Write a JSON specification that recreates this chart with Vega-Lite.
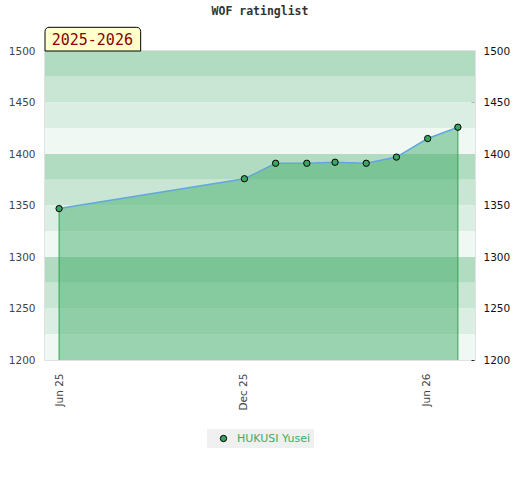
{
  "$schema": "https://vega.github.io/schema/vega-lite/v6.json",
  "autosize": "none",
  "width": 430,
  "height": 309,
  "padding": {"left": 45, "top": 51, "right": 45, "bottom": 120},
  "background": "white",
  "title": {
    "text": "WOF ratinglist",
    "font": "DejaVu Sans Mono",
    "fontSize": 11.5,
    "fontWeight": "bold",
    "color": "#333333",
    "anchor": "middle",
    "offset": 9
  },
  "datasets": {
    "ratings": [
      {"date": "2025/06/01", "rating": 1347, "player": "HUKUSI Yusei"},
      {"date": "2025/12/02", "rating": 1376, "player": "HUKUSI Yusei"},
      {"date": "2026/01/02", "rating": 1391, "player": "HUKUSI Yusei"},
      {"date": "2026/02/02", "rating": 1391, "player": "HUKUSI Yusei"},
      {"date": "2026/03/02", "rating": 1392, "player": "HUKUSI Yusei"},
      {"date": "2026/04/02", "rating": 1391, "player": "HUKUSI Yusei"},
      {"date": "2026/05/02", "rating": 1397, "player": "HUKUSI Yusei"},
      {"date": "2026/06/02", "rating": 1415, "player": "HUKUSI Yusei"},
      {"date": "2026/07/02", "rating": 1426, "player": "HUKUSI Yusei"}
    ],
    "bands": [
      {"lo": 1475, "hi": 1500, "shade": "a"},
      {"lo": 1450, "hi": 1475, "shade": "b"},
      {"lo": 1425, "hi": 1450, "shade": "c"},
      {"lo": 1400, "hi": 1425, "shade": "d"},
      {"lo": 1375, "hi": 1400, "shade": "a"},
      {"lo": 1350, "hi": 1375, "shade": "b"},
      {"lo": 1325, "hi": 1350, "shade": "c"},
      {"lo": 1300, "hi": 1325, "shade": "d"},
      {"lo": 1275, "hi": 1300, "shade": "a"},
      {"lo": 1250, "hi": 1275, "shade": "b"},
      {"lo": 1225, "hi": 1250, "shade": "c"},
      {"lo": 1200, "hi": 1225, "shade": "d"}
    ],
    "season": [{"season": "2025-2026"}]
  },
  "data": {"name": "ratings", "format": {"parse": {"date": "date"}}},
  "layer": [
    {
      "data": {"name": "bands"},
      "mark": {"type": "rect"},
      "encoding": {
        "y": {
          "field": "hi",
          "type": "quantitative",
          "scale": {"domain": [1200, 1500], "nice": false, "zero": false},
          "axis": {
            "orient": "left",
            "values": [1200, 1250, 1300, 1350, 1400, 1450, 1500],
            "format": "d",
            "ticks": false,
            "tickSize": 0,
            "domain": false,
            "grid": false,
            "title": null,
            "labelPadding": 10,
            "labelColor": "#444444"
          }
        },
        "y2": {"field": "lo"},
        "fill": {
          "field": "shade",
          "type": "nominal",
          "scale": {"domain": ["a", "b", "c", "d"], "range": ["#b2dcc2", "#c8e6d3", "#dbeee3", "#eff8f2"]},
          "legend": null
        }
      }
    },
    {
      "mark": {"type": "area", "fill": "#3caa63", "fillOpacity": 0.47},
      "encoding": {
        "x": {
          "field": "date",
          "type": "temporal",
          "scale": {"domain": [{"year": 2025, "month": 5, "date": 18}, {"year": 2026, "month": 7, "date": 19}]},
          "axis": {
            "values": [{"year": 2025, "month": 6, "date": 1}, {"year": 2025, "month": 12, "date": 1}, {"year": 2026, "month": 6, "date": 1}],
            "format": "%b %y",
            "labelAngle": 270,
            "ticks": false,
            "tickSize": 0,
            "domain": false,
            "grid": false,
            "title": null,
            "labelPadding": 13,
            "labelColor": "#444444"
          }
        },
        "y": {
          "field": "rating",
          "type": "quantitative",
          "scale": {"domain": [1200, 1500], "nice": false, "zero": false},
          "axis": {
            "orient": "right",
            "values": [1200, 1250, 1300, 1350, 1400, 1450, 1500],
            "format": "d",
            "ticks": false,
            "tickSize": 0,
            "domain": false,
            "grid": false,
            "title": null,
            "labelPadding": 8,
            "labelColor": "#111111"
          }
        },
        "y2": {"datum": 1200}
      }
    },
    {
      "transform": [
        {"joinaggregate": [{"op": "min", "field": "date", "as": "first"}, {"op": "max", "field": "date", "as": "last"}]},
        {"filter": "time(datum.date) == time(datum.first) || time(datum.date) == time(datum.last)"}
      ],
      "mark": {"type": "rule", "color": "#2ea44f", "strokeWidth": 1},
      "encoding": {
        "x": {"field": "date", "type": "temporal", "scale": {"domain": [{"year": 2025, "month": 5, "date": 18}, {"year": 2026, "month": 7, "date": 19}]}, "axis": null},
        "y": {"field": "rating", "type": "quantitative", "scale": {"domain": [1200, 1500], "nice": false, "zero": false}, "axis": null},
        "y2": {"datum": 1200}
      }
    },
    {
      "mark": {"type": "line", "color": "#62a6de", "strokeWidth": 1.5},
      "encoding": {
        "x": {"field": "date", "type": "temporal", "scale": {"domain": [{"year": 2025, "month": 5, "date": 18}, {"year": 2026, "month": 7, "date": 19}]}, "axis": null},
        "y": {"field": "rating", "type": "quantitative", "scale": {"domain": [1200, 1500], "nice": false, "zero": false}, "axis": null}
      }
    },
    {
      "mark": {"type": "point", "filled": true, "shape": "circle", "size": 40, "stroke": "#000000", "strokeWidth": 1, "opacity": 1},
      "encoding": {
        "x": {"field": "date", "type": "temporal", "scale": {"domain": [{"year": 2025, "month": 5, "date": 18}, {"year": 2026, "month": 7, "date": 19}]}, "axis": null},
        "y": {
          "field": "rating",
          "type": "quantitative",
          "scale": {"domain": [1200, 1500], "nice": false, "zero": false},
          "axis": {
            "orient": "right",
            "offset": -4,
            "values": [1200, 1210, 1220, 1230, 1240, 1250, 1260, 1270, 1280, 1290, 1300, 1310, 1320, 1330, 1340, 1350, 1360, 1370, 1380, 1390, 1400, 1410, 1420, 1430, 1440, 1450, 1460, 1470, 1480, 1490],
            "labels": false,
            "tickSize": 3,
            "tickColor": "#222222",
            "tickWidth": 1,
            "domain": false,
            "grid": false,
            "title": null
          }
        },
        "color": {
          "field": "player",
          "type": "nominal",
          "scale": {"range": ["#3aa660"]},
          "legend": {
            "orient": "bottom",
            "title": null,
            "offset": 18,
            "padding": 4,
            "fillColor": "#f0f0f0",
            "labelColor": "#3cad5f",
            "labelFont": "DejaVu Sans",
            "labelFontSize": 11,
            "labelOffset": 8,
            "symbolOffset": 7,
            "symbolType": "circle",
            "symbolSize": 40,
            "symbolStrokeColor": "#000000",
            "symbolStrokeWidth": 1
          }
        }
      }
    },
    {
      "data": {"name": "season"},
      "mark": {"type": "rect", "fill": "#ffffcc", "stroke": "#000000", "strokeWidth": 1, "clip": false, "cornerRadiusTopLeft": 4, "cornerRadiusTopRight": 4},
      "encoding": {
        "x": {"datum": {"year": 2025, "month": 5, "date": 18}, "type": "temporal", "scale": {"domain": [{"year": 2025, "month": 5, "date": 18}, {"year": 2026, "month": 7, "date": 19}]}, "axis": null},
        "x2": {"datum": {"year": 2025, "month": 8, "date": 21}},
        "y": {"datum": 1523, "type": "quantitative", "scale": {"domain": [1200, 1500], "nice": false, "zero": false}, "axis": null},
        "y2": {"datum": 1500}
      }
    },
    {
      "data": {"name": "season"},
      "mark": {"type": "text", "font": "DejaVu Sans Mono", "fontSize": 15, "color": "#8b0000", "clip": false, "baseline": "middle", "align": "center"},
      "encoding": {
        "x": {"datum": {"year": 2025, "month": 7, "date": 4}, "type": "temporal", "scale": {"domain": [{"year": 2025, "month": 5, "date": 18}, {"year": 2026, "month": 7, "date": 19}]}, "axis": null},
        "y": {"datum": 1511, "type": "quantitative", "scale": {"domain": [1200, 1500], "nice": false, "zero": false}, "axis": null},
        "text": {"field": "season"}
      }
    }
  ],
  "resolve": {"axis": {"x": "independent", "y": "independent"}},
  "config": {
    "view": {"stroke": "#d8d8d8", "strokeWidth": 1.5},
    "axis": {"labelFont": "DejaVu Sans", "labelFontSize": 10.5},
    "legend": {"layout": {"bottom": {"anchor": "middle"}}}
  }
}
